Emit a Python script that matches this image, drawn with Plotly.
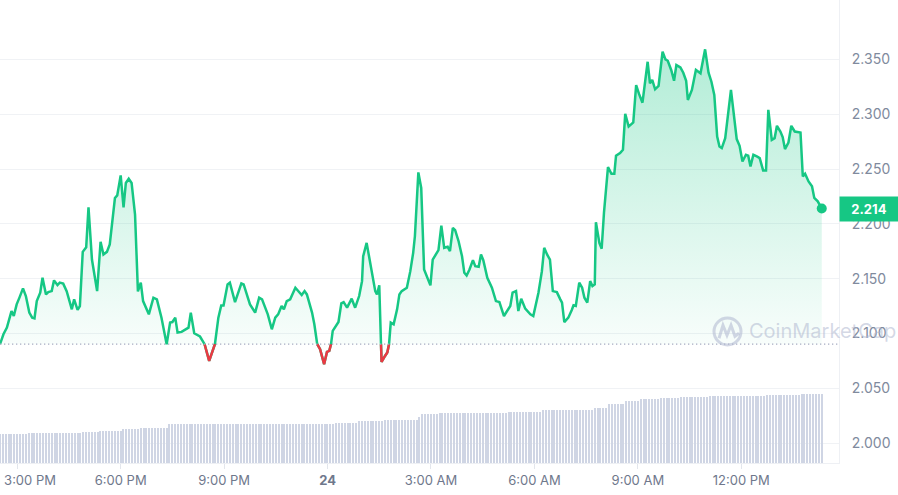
import pandas as pd
import plotly.graph_objects as go

# ---------------- data ----------------
START = pd.Timestamp("2025-01-23 14:30")

# minutes after START for each price vertex
MINUTES = [
    0, 6, 12, 17, 20, 24, 29, 34, 40, 45, 51, 56, 60, 64, 70, 74, 80, 84, 90, 94,
    100, 104, 110, 116, 121, 125, 129, 135, 139, 144, 150, 154, 160, 169, 175, 180, 186, 191, 200, 204,
    210, 215, 219, 224, 229, 235, 240,
    245, 249, 259, 267, 273, 281, 290, 296, 300, 305, 309, 316, 328, 332, 338, 348, 356, 364, 374, 380,
    385, 389, 396, 400, 409, 420, 424, 435, 444, 451, 456, 466, 473, 479,
    484, 490, 494, 499, 505, 514, 519, 525, 530, 534, 543, 547, 552, 557, 564, 569, 573, 576, 579, 589,
    594, 598, 604, 612, 618, 625, 630, 632, 638, 644, 653, 656, 660, 663, 664, 670, 674, 677, 680, 685,
    691, 695, 699, 708, 714, 719, 722, 728, 733, 738, 743, 749, 753, 760, 763, 768, 773, 779, 783, 788,
    792, 798, 804, 808, 812, 817, 823, 827, 833, 837, 841, 848, 856, 863, 869, 877, 883, 888, 892, 898,
    902, 907, 914, 923, 928, 937, 943, 947, 952, 957, 962, 969, 975,
    978, 982, 989, 995, 998, 1002, 1008, 1013, 1017, 1022, 1027, 1031, 1035, 1037, 1043, 1047, 1051, 1058, 1064, 1069,
    1072, 1079, 1084, 1088, 1094, 1102, 1107, 1112, 1118, 1127, 1131, 1135, 1140, 1146, 1153, 1158, 1162, 1168, 1173, 1177,
    1184, 1189, 1194, 1197, 1204, 1211, 1216, 1219, 1227, 1233, 1238, 1243, 1248, 1252, 1256, 1262, 1272, 1276, 1282, 1287,
    1292, 1298, 1302, 1306, 1311, 1317, 1322, 1328, 1333, 1337, 1343, 1348, 1352, 1358, 1362, 1366, 1372, 1377, 1383, 1393,
    1397, 1401, 1407, 1413, 1417, 1423, 1430,
]

PRICES = [
    2.0903, 2.0994, 2.1054, 2.1160, 2.1205, 2.1160, 2.1266, 2.1330, 2.1412, 2.1342,
    2.1191, 2.1145, 2.1139, 2.1296, 2.1373, 2.1509, 2.1357, 2.1378, 2.1387, 2.1485,
    2.1442, 2.1464, 2.1455, 2.1387, 2.1282, 2.1221, 2.1312, 2.1215, 2.1251, 2.1745,
    2.1787, 2.2151, 2.1675, 2.1387, 2.1836, 2.1721, 2.1745, 2.1812, 2.2236, 2.2260,
    2.2442, 2.2151, 2.2373, 2.2412, 2.2373, 2.2085, 2.1385,
    2.1464, 2.1296, 2.1175, 2.1327, 2.1312, 2.1145, 2.0903, 2.1100, 2.1105, 2.1145,
    2.1009, 2.1015, 2.1054, 2.1191, 2.1003, 2.0973, 2.0903, 2.0751, 2.0903, 2.1145,
    2.1257, 2.1257, 2.1448, 2.1464, 2.1287, 2.1457, 2.1448, 2.1266, 2.1191, 2.1327,
    2.1312, 2.1175, 2.1039, 2.1145,
    2.1175, 2.1251, 2.1221, 2.1296, 2.1312, 2.1418, 2.1387, 2.1351, 2.1387, 2.1357,
    2.1191, 2.1085, 2.0903, 2.0857, 2.0721, 2.0833, 2.0842, 2.0903, 2.1024, 2.1105,
    2.1275, 2.1287, 2.1236, 2.1318, 2.1236, 2.1342, 2.1478, 2.1705, 2.1827, 2.1645,
    2.1387, 2.1357, 2.1439, 2.0903, 2.0742, 2.0796, 2.0827, 2.0903, 2.1100, 2.1085,
    2.1221, 2.1357, 2.1387, 2.1418, 2.1569, 2.1736, 2.1887, 2.2469, 2.2327, 2.1584,
    2.1524, 2.1439, 2.1675, 2.1730, 2.1760, 2.1984, 2.1782, 2.1791, 2.1751, 2.1963,
    2.1942, 2.1842, 2.1705, 2.1554, 2.1530, 2.1584, 2.1669, 2.1614, 2.1609, 2.1721,
    2.1669, 2.1509, 2.1418, 2.1296, 2.1287, 2.1160, 2.1215, 2.1251, 2.1373, 2.1387,
    2.1205, 2.1318, 2.1227, 2.1175, 2.1160, 2.1373, 2.1569, 2.1782, 2.1721, 2.1675,
    2.1387, 2.1378, 2.1312,
    2.1282, 2.1105, 2.1145, 2.1215, 2.1257, 2.1251, 2.1464, 2.1418, 2.1327, 2.1282,
    2.1478, 2.1433, 2.1448, 2.2015, 2.1827, 2.1773, 2.2100, 2.2518, 2.2457, 2.2457,
    2.2621, 2.2645, 2.2675, 2.3003, 2.2887, 2.2924, 2.3266, 2.3185, 2.3105, 2.3478,
    2.3282, 2.3312, 2.3227, 2.3257, 2.3569, 2.3500, 2.3487, 2.3403, 2.3305, 2.3448,
    2.3427, 2.3378, 2.3305, 2.3130, 2.3221, 2.3403, 2.3387, 2.3373, 2.3591, 2.3378,
    2.3296, 2.3175, 2.2796, 2.2705, 2.2691, 2.2782, 2.3221, 2.3024, 2.2773, 2.2712,
    2.2569, 2.2630, 2.2621, 2.2524, 2.2630, 2.2615, 2.2600, 2.2487, 2.2487, 2.3039,
    2.2766, 2.2782, 2.2894, 2.2842, 2.2791, 2.2682, 2.2742, 2.2894, 2.2842, 2.2833,
    2.2433, 2.2457, 2.2387, 2.2342, 2.2236, 2.2205, 2.2140,
]

# 24h volume bars (5-minute bars), in billions USD: level and number of consecutive bars
VOLUME_LEVELS = [5.74, 5.94, 6.20, 6.48, 6.74, 7.00, 7.90, 8.08, 8.40, 8.68, 9.20, 9.74,
                 10.00, 10.20, 10.54, 10.94, 11.74, 12.34, 12.74, 13.04, 13.20, 13.34,
                 13.48, 13.68, 13.80]
VOLUME_COUNTS = [10, 19, 6, 8, 6, 10, 58, 8, 9, 12, 1, 6,
                 24, 12, 18, 5, 6, 5, 7, 7, 10, 6,
                 14, 12, 8]
VOLUME_STEP_MIN = 5

TICK_TIMES = ["2025-01-23 15:00", "2025-01-23 18:00", "2025-01-23 21:00", "2025-01-24 00:00",
              "2025-01-24 03:00", "2025-01-24 06:00", "2025-01-24 09:00", "2025-01-24 12:00"]
TICK_TEXT = ["\u00a0" * 7 + "3:00 PM", "6:00 PM", "9:00 PM", "<b>24</b>",
             "3:00 AM", "6:00 AM", "9:00 AM", "12:00 PM"]
Y_TICKS = [2.000, 2.050, 2.100, 2.150, 2.200, 2.250, 2.300, 2.350]

assert len(MINUTES) == len(PRICES)

# ---------------- derived series ----------------
GREEN = "#16c784"
RED = "#ea3943"
times = START + pd.to_timedelta(MINUTES, unit="min")
baseline = PRICES[0]
fill_y = [max(p, baseline) for p in PRICES]
red_y = [p if p <= baseline else None for p in PRICES]

volume = []
for lvl, cnt in zip(VOLUME_LEVELS, VOLUME_COUNTS):
    volume += [lvl] * cnt
vol_times = START + pd.to_timedelta([VOLUME_STEP_MIN * i for i in range(len(volume))], unit="min")

fig = go.Figure()

fig.add_trace(go.Bar(x=vol_times, y=volume, yaxis="y2", width=120000,
                     marker=dict(color="#cfd5e4", line=dict(width=0)),
                     hoverinfo="skip", showlegend=False))

fig.add_trace(go.Scatter(x=times, y=[baseline] * len(PRICES), mode="lines",
                         line=dict(width=0), hoverinfo="skip", showlegend=False))
fig.add_trace(go.Scatter(x=times, y=fill_y, mode="lines", line=dict(width=0),
                         fill="tonexty",
                         fillgradient=dict(type="vertical", start=baseline, stop=max(PRICES),
                                           colorscale=[[0, "rgba(22,199,132,0.03)"],
                                                       [1, "rgba(22,199,132,0.33)"]]),
                         hoverinfo="skip", showlegend=False))

fig.add_trace(go.Scatter(x=times, y=PRICES, mode="lines",
                         line=dict(color=GREEN, width=2.5), showlegend=False))
fig.add_trace(go.Scatter(x=times, y=red_y, mode="lines", connectgaps=False,
                         line=dict(color=RED, width=2.5), showlegend=False))
fig.add_trace(go.Scatter(x=[times[-1]], y=[PRICES[-1]], mode="markers",
                         marker=dict(color=GREEN, size=10), showlegend=False))

# baseline (open price) dotted line
fig.add_shape(type="line", xref="paper", x0=0, x1=1, yref="y", y0=baseline, y1=baseline,
              line=dict(color="#a6acc2", width=1.3, dash="1.3px,2.7px"), layer="above")

# watermark
wm = "rgba(175,183,207,0.55)"
fig.add_shape(type="circle", xref="paper", yref="paper",
              x0=714 / 839, x1=741 / 839, y0=1 - 345 / 463, y1=1 - 318 / 463,
              line=dict(color=wm, width=3))
fig.add_shape(type="path", xref="paper", yref="paper",
              path="M 0.8570,0.2695 L 0.8617,0.2976 L 0.8665,0.2760 L 0.8713,0.2976 L 0.8760,0.2738 L 0.8808,0.2803",
              line=dict(color=wm, width=3))
fig.add_annotation(text="CoinMarketCap", xref="paper", yref="paper",
                   x=747 / 839, y=1 - 331 / 463, xanchor="left", yanchor="middle",
                   showarrow=False, font=dict(family="Inter", size=20, color=wm))

# current price tag
fig.add_annotation(text=f"<b>{PRICES[-1]:.3f}</b>", xref="paper", yref="y",
                   x=1, y=PRICES[-1], xanchor="left", yanchor="middle", showarrow=False,
                   bgcolor=GREEN, width=50, height=16, borderpad=4,
                   font=dict(family="Inter", size=13, color="white"))

fig.update_layout(
    width=898, height=495,
    margin=dict(l=0, r=59, t=0, b=32, pad=0),
    paper_bgcolor="white", plot_bgcolor="white",
    bargap=0, showlegend=False,
    font=dict(family="Inter"),
    xaxis=dict(type="date",
               range=[START, START + pd.Timedelta(minutes=1460)],
               tickvals=pd.to_datetime(TICK_TIMES), ticktext=TICK_TEXT,
               showgrid=False, zeroline=False,
               showline=True, linecolor="#eef0f4", linewidth=1,
               ticks="outside", ticklen=5, tickcolor="#e3e6ec",
               ticklabeloverflow="allow",
               tickfont=dict(family="Inter", size=13, color="#6f788c"),
               automargin=False),
    yaxis=dict(side="right", range=[1.9820, 2.4041],
               tickvals=Y_TICKS, ticktext=[f"{v:.3f}" for v in Y_TICKS],
               showgrid=True, gridcolor="#f0f2f5", gridwidth=1,
               zeroline=False, showline=True, linecolor="#eef0f4", linewidth=1,
               ticks="", ticklabelstandoff=9,
               tickfont=dict(family="Inter", size=14, color="#808a9d"),
               automargin=False),
    yaxis2=dict(overlaying="y", range=[0, 92.6], visible=False, fixedrange=True),
)

fig.write_html("out.html", config={"displayModeBar": False},
               post_script="document.body.style.margin='0';")
